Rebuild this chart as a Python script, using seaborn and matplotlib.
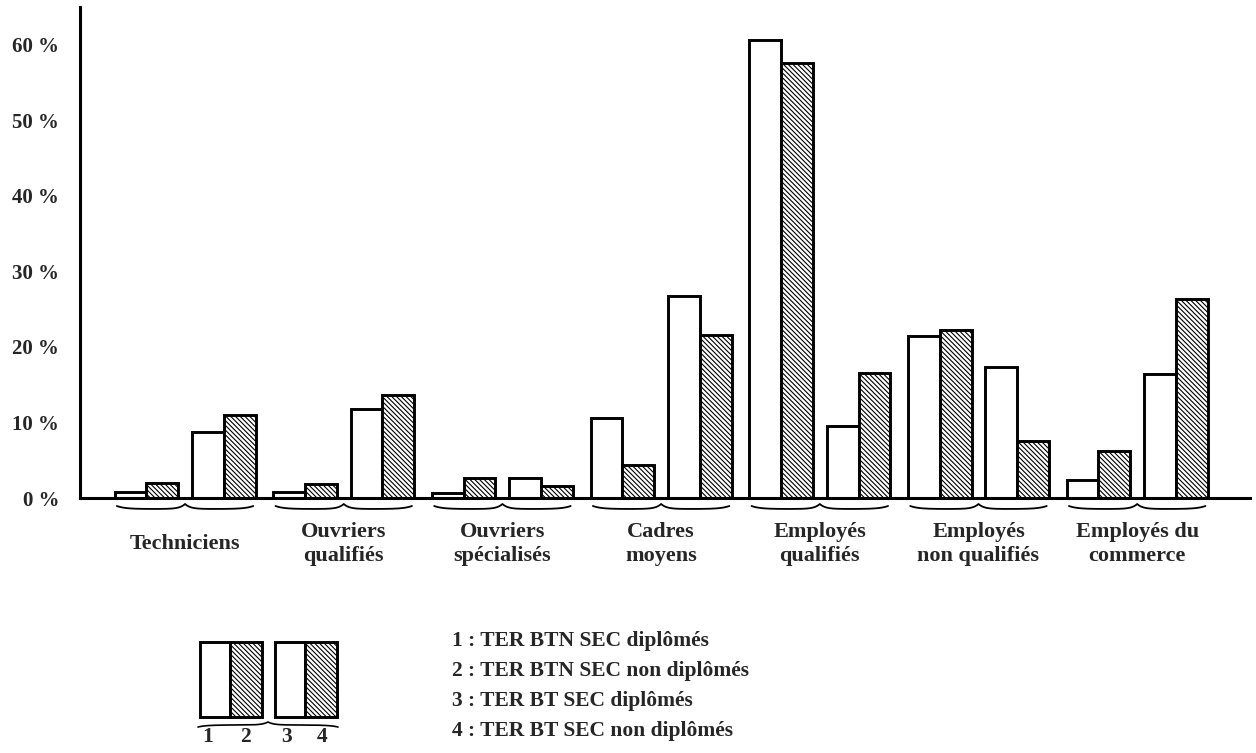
import matplotlib.pyplot as plt
import seaborn as sns
import numpy as np
import pandas as pd
from matplotlib.patches import Rectangle
from matplotlib.transforms import blended_transform_factory


categories = ["Techniciens", "Ouvriers\nqualifiés", "Ouvriers\nspécialisés", "Cadres\nmoyens",
              "Employés\nqualifiés", "Employés\nnon qualifiés", "Employés du\ncommerce"]
series = ["1 : TER BTN SEC diplômés", "2 : TER BTN SEC non diplômés",
          "3 : TER BT SEC diplômés", "4 : TER BT SEC non diplômés"]
btn_dipl = [0.8, 0.8, 0.7, 10.6, 60.6, 21.4, 2.4]
btn_non_dipl = [2.0, 1.9, 2.7, 4.4, 57.6, 22.3, 6.2]
bt_dipl = [8.8, 11.8, 2.7, 26.8, 9.5, 17.3, 16.4]
bt_non_dipl = [11.0, 13.7, 1.6, 21.6, 16.6, 7.6, 26.4]
yticks = [0, 10, 20, 30, 40, 50, 60]

sns.set_style("white")
plt.rcParams['font.family'] = ['Liberation Serif', 'DejaVu Serif']
plt.rcParams['font.weight'] = 'bold'
plt.rcParams['hatch.linewidth'] = 0.8

df = pd.DataFrame({
    "categorie": np.tile(categories, 4),
    "serie": np.repeat(series, len(categories)),
    "valeur": btn_dipl + btn_non_dipl + bt_dipl + bt_non_dipl,
})

fig = plt.figure(figsize=(12.56, 7.53), dpi=100)
ax = fig.add_axes([80 / 1256, 255 / 753, 1170 / 1256, 491 / 753])

sns.barplot(data=df, x="categorie", y="valeur", hue="serie", palette=["white"] * 4,
            saturation=1, edgecolor="black", linewidth=2.1, width=0.8, legend=False, ax=ax)

# hachures sur les non diplomes, petit ecart entre les deux paires
hatch = "\\" * 7
hatches = [None, hatch, None, hatch]
shifts = [-0.044, -0.044, 0.044, 0.044]
for cont, h, s in zip(ax.containers, hatches, shifts):
    for p in cont:
        p.set_x(p.get_x() + s)
        if h:
            p.set_hatch(h)

ax.set_xlim(-0.662, 6.711)
ax.set_ylim(0, 65)
ax.set_yticks(yticks)
ax.set_yticklabels([f"{v} %" for v in yticks], fontsize=15, fontweight='bold')
ax.set_xticks([])
ax.set_xlabel("")
ax.set_ylabel("")
ax.tick_params(axis='y', direction='out', length=11, width=2.2, pad=4, color='black')
for side in ['top', 'right']:
    ax.spines[side].set_visible(False)
for side in ['left', 'bottom']:
    ax.spines[side].set_linewidth(2.2)
    ax.spines[side].set_color('black')


def brace(axis, x0, x1, trans, y_end, y_mid, y_cusp, lw=1.3):
    u = np.linspace(0, 1, 120)
    xc = (x0 + x1) / 2
    half = (x1 - x0) / 2
    yl = y_mid + (y_end - y_mid) * np.exp(-u / 0.12) + (y_cusp - y_mid) * np.exp(-(1 - u) / 0.08)
    xs = np.concatenate([x0 + u * half, xc + u * half])
    ys = np.concatenate([yl, yl[::-1]])
    axis.plot(xs, ys, color='black', lw=lw, transform=trans, clip_on=False)


tr = blended_transform_factory(ax.transData, fig.transFigure)
for i, cat in enumerate(categories):
    brace(ax, i - 0.43, i + 0.43, tr, 1 - 506 / 753, 1 - 509 / 753, 1 - 504 / 753)
    ax.text(i, 1 - 544 / 753, cat, transform=tr, ha='center', va='center',
            multialignment='center', fontsize=16, fontweight='bold', linespacing=1.25)

# legende dessinee
lax = fig.add_axes([0, 0, 1, 1])
lax.set_xlim(0, 1256)
lax.set_ylim(753, 0)
lax.axis('off')
for x0 in [200, 275]:
    lax.add_patch(Rectangle((x0, 642), 30, 75, facecolor='white', edgecolor='black', lw=2.1))
    lax.add_patch(Rectangle((x0 + 30, 642), 32, 75, facecolor='white', edgecolor='black',
                            lw=2.1, hatch=hatch))
u = np.linspace(0, 1, 120)
yl = 725 + (727 - 725) * np.exp(-u / 0.12) + (722 - 725) * np.exp(-(1 - u) / 0.08)
lax.plot(np.concatenate([198 + u * 70, 268 + u * 70]), np.concatenate([yl, yl[::-1]]),
         color='black', lw=1.2)
for num, xn in zip(["1", "2", "3", "4"], [208, 245, 287, 322]):
    lax.text(xn, 737, num, ha='center', va='center', fontsize=15.5, fontweight='bold')
for k, s in enumerate(series):
    lax.text(452, 641 + k * 30, s, ha='left', va='center', fontsize=15.5, fontweight='bold')

fig.savefig("out.png", dpi=100)
